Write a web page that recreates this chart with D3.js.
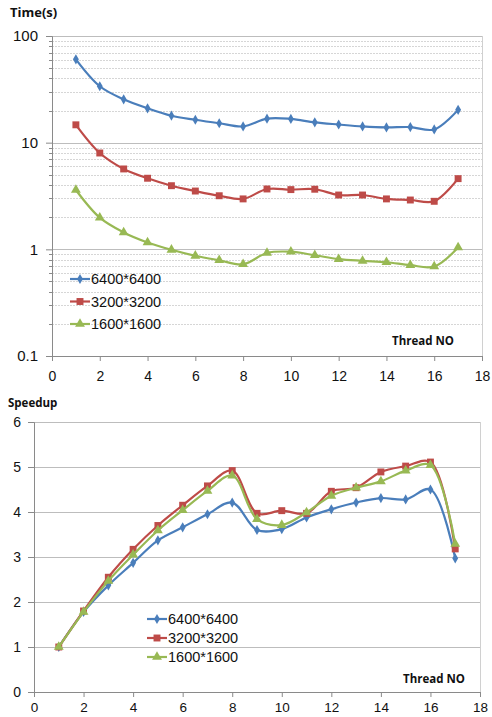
<!DOCTYPE html>
<html>
<head>
<meta charset="utf-8">
<script src="https://cdn.jsdelivr.net/npm/d3@7"></script>
<style>
  html, body { margin: 0; padding: 0; background: #fff; }
  svg text { font-family: "Liberation Sans", Arial, sans-serif; fill: #111; }
  .ttl { font-family: "Open Sans", "DejaVu Sans", sans-serif; font-weight: bold; }
</style>
</head>
<body>
<svg id="chart" width="492" height="717"></svg>
<script>
// thread counts
var threads = [1, 2, 3, 4, 5, 6, 7, 8, 9, 10, 11, 12, 13, 14, 15, 16, 17];
var seriesNames = ['6400*6400', '3200*3200', '1600*1600'];

// time (s), log scale
var time6400 = [60.4, 33.8, 25.5, 21.0, 17.9, 16.4, 15.2, 14.2, 16.8, 16.7, 15.5, 14.8, 14.2, 13.9, 14.0, 13.3, 20.3];
var time3200 = [14.7, 8.0, 5.67, 4.64, 3.95, 3.52, 3.18, 2.97, 3.68, 3.63, 3.66, 3.23, 3.23, 2.97, 2.90, 2.82, 4.60];
var time1600 = [3.6, 1.98, 1.44, 1.16, 0.99, 0.87, 0.79, 0.725, 0.925, 0.95, 0.88, 0.81, 0.78, 0.757, 0.71, 0.69, 1.04];

// speedup
var speed6400 = [1.0, 1.78, 2.37, 2.87, 3.37, 3.66, 3.95, 4.21, 3.60, 3.62, 3.88, 4.06, 4.21, 4.31, 4.28, 4.50, 2.97];
var speed3200 = [1.0, 1.80, 2.55, 3.17, 3.70, 4.15, 4.58, 4.92, 3.97, 4.03, 3.97, 4.46, 4.54, 4.89, 5.02, 5.11, 3.18];
var speed1600 = [1.0, 1.78, 2.47, 3.05, 3.59, 4.04, 4.47, 4.81, 3.84, 3.71, 3.99, 4.36, 4.54, 4.68, 4.92, 5.04, 3.29];

var xTicks = [0, 2, 4, 6, 8, 10, 12, 14, 16, 18];
var timeTicks = [0.1, 1, 10, 100];
var speedTicks = [0, 1, 2, 3, 4, 5, 6];

var colors = ['#4A7EBB', '#BE4B48', '#98B954'];
var markers = [d3.symbolDiamond, d3.symbolSquare, d3.symbolTriangle];
var markerSize = [30, 48, 42];

var svg = d3.select('#chart');

function drawChart(opt) {
    var g = svg.append('g');
    var x = opt.x, y = opt.y;
    var left = x.range()[0], right = x.range()[1];
    var top = y.range()[1], bottom = y.range()[0];

    // minor gridlines (log chart)
    if (opt.minor) {
        g.selectAll('.minor').data(opt.minor).enter().append('line')
            .attr('x1', left).attr('x2', right)
            .attr('y1', function(d) { return Math.round(y(d)) + 0.5; })
            .attr('y2', function(d) { return Math.round(y(d)) + 0.5; })
            .attr('stroke', '#d6d6d6').attr('stroke-dasharray', '2,1');
        g.selectAll('.minortick').data(opt.minor).enter().append('line')
            .attr('x1', left - 3).attr('x2', left)
            .attr('y1', function(d) { return Math.round(y(d)) + 0.5; })
            .attr('y2', function(d) { return Math.round(y(d)) + 0.5; })
            .attr('stroke', '#8a8a8a');
    }

    // major gridlines
    g.selectAll('.major').data(opt.yTicks).enter().append('line')
        .attr('x1', left).attr('x2', right)
        .attr('y1', function(d) { return Math.round(y(d)) + 0.5; })
        .attr('y2', function(d) { return Math.round(y(d)) + 0.5; })
        .attr('stroke', '#bdbdbd');

    // frame right side
    g.append('line').attr('x1', right + 0.5).attr('x2', right + 0.5)
        .attr('y1', top).attr('y2', bottom).attr('stroke', '#d0d0d0');

    // axes
    var yAxis = d3.axisLeft(y).tickValues(opt.yTicks).tickSize(6).tickPadding(opt.yPad)
        .tickFormat(opt.yFormat);
    var ya = g.append('g').attr('transform', 'translate(' + left + ',0)').call(yAxis);
    ya.select('.domain').attr('stroke', '#8a8a8a');
    ya.selectAll('.tick line').attr('stroke', '#8a8a8a');
    ya.selectAll('text').attr('font-size', opt.yFont).attr('fill', '#111');

    var xAxis = d3.axisBottom(x).tickValues(xTicks).tickSize(5).tickPadding(opt.xPad);
    var xa = g.append('g').attr('transform', 'translate(0,' + bottom + ')').call(xAxis);
    xa.select('.domain').attr('stroke', '#8a8a8a');
    xa.selectAll('.tick line').attr('stroke', '#8a8a8a');
    xa.selectAll('text').attr('font-size', opt.xFont).attr('fill', '#111');
    ya.attr('font-family', null); xa.attr('font-family', null);

    // series
    var line = d3.line()
        .x(function(d, i) { return x(threads[i]); })
        .y(function(d) { return y(d); })
        .curve(d3.curveCatmullRom.alpha(0.5));

    opt.series.forEach(function(s, k) {
        g.append('path').datum(s)
            .attr('d', line).attr('fill', 'none')
            .attr('stroke', colors[k]).attr('stroke-width', 2.2);
        g.selectAll('.m' + k).data(s).enter().append('path')
            .attr('transform', function(d, i) { return 'translate(' + x(threads[i]) + ',' + y(d) + ')'; })
            .attr('d', d3.symbol().type(markers[k]).size(markerSize[k]))
            .attr('fill', colors[k]);
    });

    // legend
    var lg = g.append('g').attr('transform', 'translate(' + opt.legend[0] + ',' + opt.legend[1] + ')');
    seriesNames.forEach(function(name, k) {
        var row = lg.append('g').attr('transform', 'translate(0,' + (k * opt.legendGap) + ')');
        row.append('line').attr('x1', 0).attr('x2', 20).attr('y1', 0).attr('y2', 0)
            .attr('stroke', colors[k]).attr('stroke-width', 2.2);
        row.append('path').attr('transform', 'translate(10,0)')
            .attr('d', d3.symbol().type(markers[k]).size(markerSize[k]))
            .attr('fill', colors[k]);
        row.append('text').attr('x', 21).attr('y', 0).attr('dy', '0.35em')
            .attr('font-size', 14.5).text(name);
    });

    // titles
    g.append('text').attr('class', 'ttl').attr('x', opt.yTitle[0]).attr('y', opt.yTitle[1])
        .attr('font-size', opt.yTitle[2]).text(opt.yTitle[3]);
    g.append('text').attr('class', 'ttl').attr('x', opt.xTitle[0]).attr('y', opt.xTitle[1])
        .attr('font-size', 11.5).text('Thread NO');
}

// top chart: time, log scale
var minorTime = [];
[0.1, 1, 10].forEach(function(b) {
    for (var m = 2; m <= 9; m++) minorTime.push(b * m);
});

drawChart({
    x: d3.scaleLinear().domain([0, 18]).range([52, 482]),
    y: d3.scaleLog().domain([0.1, 100]).range([356, 36]),
    yTicks: timeTicks,
    yFormat: function(d) { return d < 1 ? '0.1' : String(d); },
    minor: minorTime,
    series: [time6400, time3200, time1600],
    yFont: 15, xFont: 14, yPad: 8, xPad: 10,
    legend: [70, 279], legendGap: 22.5,
    yTitle: [10, 17, 13, 'Time(s)'],
    xTitle: [392, 345]
});

// bottom chart: speedup
drawChart({
    x: d3.scaleLinear().domain([0, 18]).range([34, 480]),
    y: d3.scaleLinear().domain([0, 6]).range([692, 422]),
    yTicks: speedTicks,
    yFormat: d3.format('d'),
    series: [speed6400, speed3200, speed1600],
    yFont: 14, xFont: 13.5, yPad: 7, xPad: 5,
    legend: [147, 619], legendGap: 19,
    yTitle: [8, 407, 11.5, 'Speedup'],
    xTitle: [403, 683]
});
</script>
</body>
</html>
